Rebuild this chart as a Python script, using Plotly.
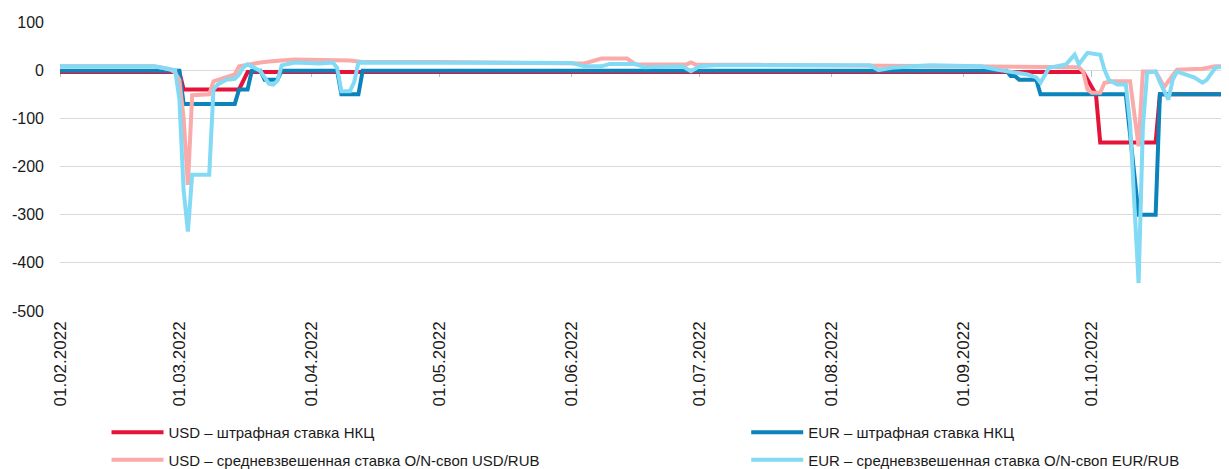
import plotly.graph_objects as go

# ---- data ----
usd_pen_dates = ["2022-02-01", "2022-03-01", "2022-03-02", "2022-03-15", "2022-03-17",
                 "2022-09-29", "2022-10-02", "2022-10-03", "2022-10-16", "2022-10-17", "2022-11-02"]
usd_pen_vals = [-4, -4, -40, -40, -4, -4, -50, -150, -150, -50, -50]

eur_pen_dates = ["2022-02-01", "2022-03-01", "2022-03-02", "2022-03-14", "2022-03-15", "2022-03-17",
                 "2022-03-18", "2022-03-20", "2022-03-21", "2022-03-24", "2022-03-25", "2022-04-07",
                 "2022-04-08", "2022-04-12", "2022-04-13", "2022-09-11", "2022-09-12", "2022-09-13",
                 "2022-09-14", "2022-09-18", "2022-09-19", "2022-10-09", "2022-10-12", "2022-10-16",
                 "2022-10-17", "2022-11-02"]
eur_pen_vals = [-1, -1, -70, -70, -40, -40, -1, -1, -20, -20, -1, -1, -50, -50, -1, -1, -12, -12,
                -20, -20, -50, -50, -300, -300, -50, -50]

usd_swap_dates = ["2022-02-01", "2022-02-23", "2022-02-25", "2022-02-27", "2022-02-28", "2022-03-01",
                  "2022-03-02", "2022-03-03", "2022-03-04", "2022-03-08", "2022-03-09", "2022-03-10",
                  "2022-03-14", "2022-03-15", "2022-03-17", "2022-03-20", "2022-03-22", "2022-03-28",
                  "2022-04-10", "2022-04-13", "2022-05-01", "2022-06-01", "2022-06-04", "2022-06-08",
                  "2022-06-14", "2022-06-16", "2022-06-28", "2022-06-29", "2022-06-30", "2022-07-15",
                  "2022-08-15", "2022-09-01", "2022-09-28", "2022-09-29", "2022-09-30", "2022-10-01",
                  "2022-10-03", "2022-10-04", "2022-10-06", "2022-10-10", "2022-10-12", "2022-10-13",
                  "2022-10-16", "2022-10-18", "2022-10-21", "2022-10-27", "2022-10-30", "2022-11-02"]
usd_swap_vals = [8, 8, 5, 1, -5, -20, -100, -238, -52, -50, -23, -20, -9, 8, 12, 16, 18, 22,
                 20, 17, 17, 16, 14, 24, 24, 12, 12, 16, 12, 11, 10, 8, 6, -3, -40, -47,
                 -47, -26, -23, -23, -158, -3, -3, -35, 1, 3, 8, 8]

eur_swap_dates = ["2022-02-01", "2022-02-23", "2022-02-25", "2022-02-27", "2022-02-28", "2022-03-01",
                  "2022-03-02", "2022-03-03", "2022-03-04", "2022-03-08", "2022-03-09", "2022-03-10",
                  "2022-03-12", "2022-03-14", "2022-03-15", "2022-03-16", "2022-03-17", "2022-03-18",
                  "2022-03-19", "2022-03-20", "2022-03-21", "2022-03-22", "2022-03-23", "2022-03-24",
                  "2022-03-25", "2022-03-28", "2022-04-03", "2022-04-06", "2022-04-07", "2022-04-08",
                  "2022-04-10", "2022-04-11", "2022-04-12", "2022-05-01", "2022-05-20", "2022-06-01",
                  "2022-06-04", "2022-06-08", "2022-06-10", "2022-06-16", "2022-06-18", "2022-06-27",
                  "2022-06-29", "2022-07-01", "2022-07-05", "2022-08-10", "2022-08-12", "2022-08-15",
                  "2022-08-24", "2022-09-01", "2022-09-05", "2022-09-09", "2022-09-14", "2022-09-16",
                  "2022-09-18", "2022-09-19", "2022-09-21", "2022-09-25", "2022-09-27", "2022-09-28",
                  "2022-09-30", "2022-10-03", "2022-10-04", "2022-10-05", "2022-10-07", "2022-10-09",
                  "2022-10-10", "2022-10-11", "2022-10-12", "2022-10-13", "2022-10-14", "2022-10-16",
                  "2022-10-17", "2022-10-19", "2022-10-20", "2022-10-21", "2022-10-23", "2022-10-25",
                  "2022-10-27", "2022-10-28", "2022-10-30", "2022-11-01", "2022-11-02"]
eur_swap_vals = [8, 8, 5, 1, 0, -60, -250, -335, -217, -217, -40, -30, -20, -18, -9, 6, 12, 8,
                 3, -2, -15, -28, -30, -22, 10, 16, 14, 16, 5, -44, -44, -25, 16, 16, 15, 15,
                 8, 8, 13, 13, 6, 8, -2, 8, 10, 10, 0, 5, 10, 8, 8, 1, -5, -9, -15, -26,
                 5, 12, 32, 12, 36, 32, 1, -20, -30, -30, -110, -280, -442, -120, -5, -3,
                 -25, -61, -20, -3, -8, -15, -26, -20, 5, 8, 5]

series_names = ["USD – штрафная ставка НКЦ", "EUR – штрафная ставка НКЦ",
                "USD – средневзвешенная ставка O/N-своп USD/RUB",
                "EUR – средневзвешенная ставка O/N-своп EUR/RUB"]
series_colors = ["#E5123A", "#0A84BA", "#FBAAAA", "#82DAF5"]
series_legend = ["legend", "legend2", "legend", "legend2"]

y_ticks = [100, 0, -100, -200, -300, -400, -500]

fig = go.Figure()
# empty trace on the main (labelled) x axis
fig.add_trace(go.Scatter(x=[], y=[], showlegend=False, hoverinfo="skip"))

# data drawn on x2, an axis that matches x and crosses the y axis at 0
for i, (name, xs, ys, col, lg) in enumerate(zip(
        series_names,
        [usd_pen_dates, eur_pen_dates, usd_swap_dates, eur_swap_dates],
        [usd_pen_vals, eur_pen_vals, usd_swap_vals, eur_swap_vals],
        series_colors, series_legend)):
    fig.add_trace(go.Scatter(x=xs, y=ys, mode="lines", name=name, legend=lg, xaxis="x2",
                             legendgroup=f"g{i}",
                             line=dict(color=col, width=4)))

x_range = ["2022-02-01", "2022-11-02 05:00"]
legend_style = dict(orientation="v", yanchor="top", xanchor="left", y=-0.3633,
                    tracegroupgap=5, itemwidth=52,
                    font=dict(size=15, color="#1a1a1a"), bgcolor="rgba(0,0,0,0)")

# the page adds an 8 px body margin, so the figure is 8 px smaller on each side
fig.update_layout(
    width=1221, height=461,
    margin=dict(l=52, r=0, t=14, b=158, autoexpand=False),
    plot_bgcolor="white", paper_bgcolor="white",
    font=dict(family="Liberation Sans, Arial, sans-serif", size=16, color="#1a1a1a"),
    showlegend=True,
    legend=dict(x=0.0398, **legend_style),
    legend2=dict(x=0.587, **legend_style),
    xaxis=dict(type="date", range=x_range, tickmode="linear", tick0="2022-02-01", dtick="M1",
               tickformat="%d.%m.%Y", tickangle=-90, showgrid=False, zeroline=False,
               showline=False, ticks="", ticklabelstandoff=6, tickfont=dict(size=17)),
    xaxis2=dict(type="date", overlaying="x", matches="x", anchor="free", position=500 / 600,
                tickmode="linear", tick0="2022-02-01", dtick="M1", showticklabels=False,
                showgrid=False, zeroline=False, showline=True, linecolor="#d9d9d9", linewidth=1,
                ticks="outside", ticklen=6, tickcolor="#bfbfbf", layer="below traces"),
    yaxis=dict(range=[-500, 100], tickmode="array", tickvals=y_ticks,
               ticktext=[str(v) for v in y_ticks], gridcolor="#d9d9d9", gridwidth=1,
               zeroline=False, showline=False, ticks="", ticklabelstandoff=15),
)

fig.write_html("out.html")
